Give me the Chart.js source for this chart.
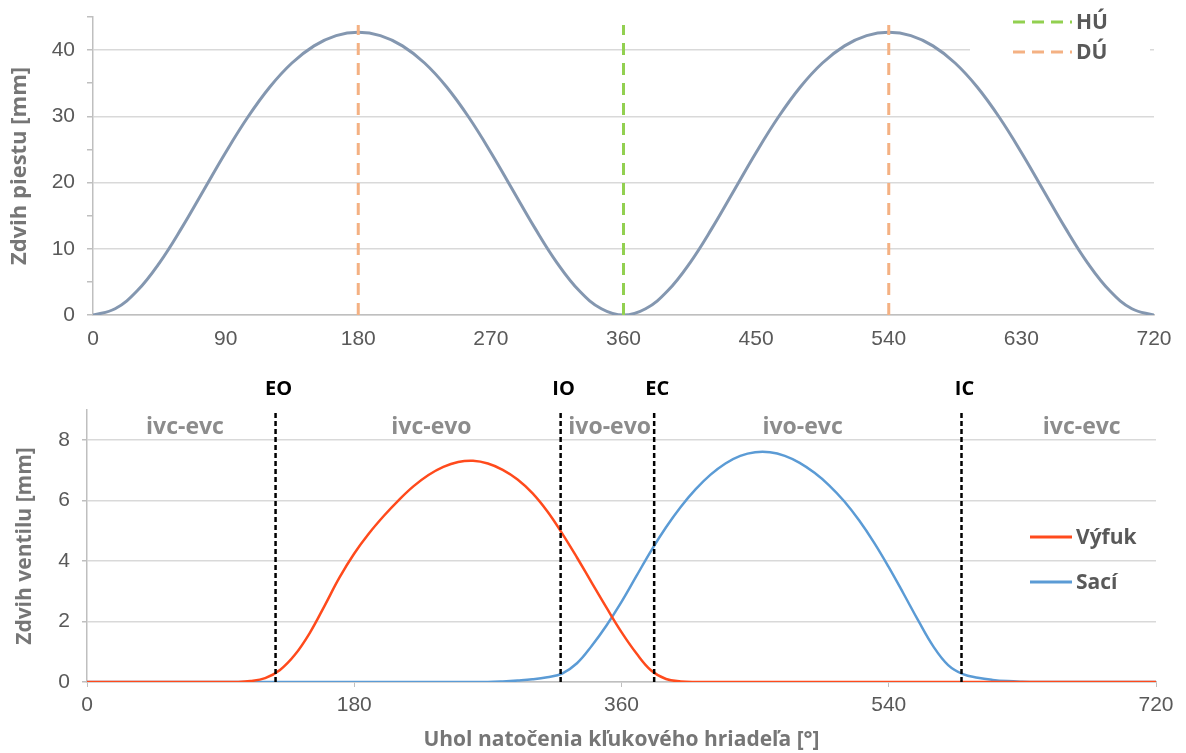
<!DOCTYPE html>
<html>
<head>
<meta charset="utf-8">
<script src="https://cdn.jsdelivr.net/npm/chart.js"></script>
<style>
  html, body { margin: 0; padding: 0; background: #fff; }
  #wrap { position: relative; width: 1186px; height: 753px; }
  .box { position: absolute; left: 0; width: 1186px; }
  #top { top: 0; height: 360px; }
  #bottom { top: 360px; height: 393px; }
</style>
</head>
<body>
<div id="wrap">
  <div class="box" id="top"><canvas id="chart-piest"></canvas></div>
  <div class="box" id="bottom"><canvas id="chart-ventil"></canvas></div>
</div>
<script>
// --- horny graf: zdvih piestu ---
const pistonDeg = [0, 15, 30, 45, 60, 75, 90, 105, 120, 135, 150, 165, 180,
  195, 210, 225, 240, 255, 270, 285, 300, 315, 330, 345, 360,
  375, 390, 405, 420, 435, 450, 465, 480, 495, 510, 525, 540,
  555, 570, 585, 600, 615, 630, 645, 660, 675, 690, 705, 720];
const pistonStroke = [0, 0.94, 3.66, 7.85, 13.08, 18.81, 24.55, 29.86, 34.43, 38.05, 40.64, 42.19, 42.7,
  42.19, 40.64, 38.05, 34.43, 29.86, 24.55, 18.81, 13.08, 7.85, 3.66, 0.94, 0,
  0.94, 3.66, 7.85, 13.08, 18.81, 24.55, 29.86, 34.43, 38.05, 40.64, 42.19, 42.7,
  42.19, 40.64, 38.05, 34.43, 29.86, 24.55, 18.81, 13.08, 7.85, 3.66, 0.94, 0];
const huDeg = [360];
const duDeg = [180, 540];
const deadCenterTop = 43.8;
const topXTicks = [0, 90, 180, 270, 360, 450, 540, 630, 720];
const topYTicks = [0, 5, 10, 15, 20, 25, 30, 35, 40, 45];

// --- dolny graf: zdvih ventilov ---
const valveDeg = [0, 10, 20, 30, 40, 50, 60, 70, 80, 90, 100, 110, 120, 130, 140, 150, 160, 170, 180,
  190, 200, 210, 220, 230, 240, 250, 260, 270, 280, 290, 300, 310, 320, 330, 340, 350, 360,
  370, 380, 390, 400, 410, 420, 430, 440, 450, 460, 470, 480, 490, 500, 510, 520, 530, 540,
  550, 560, 570, 580, 590, 600, 610, 620, 630, 640, 650, 660, 670, 680, 690, 700, 710, 720];
const exhaustLift = [0, 0, 0, 0, 0, 0, 0, 0, 0, 0, 0, 0.03, 0.13, 0.4, 0.9, 1.62, 2.52, 3.45, 4.25,
  4.92, 5.5, 6.02, 6.48, 6.85, 7.12, 7.28, 7.32, 7.23, 7.02, 6.7, 6.25, 5.65, 4.92, 4.12, 3.28, 2.45, 1.65,
  0.95, 0.38, 0.1, 0.02, 0, 0, 0, 0, 0, 0, 0, 0, 0, 0, 0, 0, 0, 0,
  0, 0, 0, 0, 0, 0, 0, 0, 0, 0, 0, 0, 0, 0, 0, 0, 0, 0];
const intakeLift = [0, 0, 0, 0, 0, 0, 0, 0, 0, 0, 0, 0, 0, 0, 0, 0, 0, 0, 0,
  0, 0, 0, 0, 0, 0, 0, 0, 0, 0.02, 0.05, 0.09, 0.16, 0.28, 0.62, 1.2, 1.88, 2.65,
  3.5, 4.35, 5.12, 5.8, 6.38, 6.86, 7.23, 7.48, 7.6, 7.6, 7.48, 7.25, 6.92, 6.5, 5.98, 5.35, 4.62, 3.8,
  2.92, 2.02, 1.18, 0.56, 0.26, 0.14, 0.07, 0.03, 0.01, 0, 0, 0, 0, 0, 0, 0, 0, 0];
const eventNames = ['EO', 'IO', 'EC', 'IC'];
const eventDeg = [127, 319, 382, 589];
const phaseNames = ['ivc-evc', 'ivc-evo', 'ivo-evo', 'ivo-evc', 'ivc-evc'];
const phaseDeg = [66, 232, 352, 482, 670];
const phaseY = 8.43;
const bottomXTicks = [0, 180, 360, 540, 720];
const bottomYTicks = [0, 2, 4, 6, 8];

const TICK_FONT = { family: 'Liberation Sans', size: 21 };
const BOLD = 'Open Sans';
const GRID = '#d9d9d9';
const AXIS = '#bfbfbf';

const pts = (xs, ys) => xs.map((x, i) => ({ x: x, y: ys[i] }));
const vline = (x, top) => [{ x: x, y: 0 }, { x: x, y: top }];
// bez extra odsadenia od popisov osi y
const noPad = s => { s.paddingTop = 0; s.paddingBottom = 0; };

// legenda s prerusovanou ciarou vpravo hore
const topLegend = {
  id: 'topLegend',
  afterDatasetsDraw(chart) {
    const ctx = chart.ctx;
    ctx.save();
    ctx.fillStyle = '#fff';
    ctx.fillRect(970, 4, 180, 64);
    const items = [['HÚ', '#92d050', 22], ['DÚ', '#f4b183', 52]];
    items.forEach(([txt, col, y]) => {
      ctx.strokeStyle = col;
      ctx.lineWidth = 3;
      ctx.setLineDash([12, 7]);
      ctx.beginPath();
      ctx.moveTo(1013, y);
      ctx.lineTo(1072, y);
      ctx.stroke();
      ctx.setLineDash([]);
      ctx.fillStyle = '#595959';
      ctx.font = 'bold 21px "' + BOLD + '"';
      ctx.textAlign = 'left';
      ctx.textBaseline = 'middle';
      ctx.fillText(txt, 1076, y + 1);
    });
    ctx.restore();
  }
};

const valveLabels = {
  id: 'valveLabels',
  afterDatasetsDraw(chart) {
    const ctx = chart.ctx;
    const xs = chart.scales.x, ys = chart.scales.y;
    ctx.save();
    ctx.textAlign = 'center';
    ctx.textBaseline = 'middle';
    ctx.font = 'bold 20px "' + BOLD + '"';
    ctx.fillStyle = '#000';
    eventNames.forEach((n, i) => {
      ctx.fillText(n, xs.getPixelForValue(eventDeg[i]) + 3, chart.chartArea.top - 21);
    });
    ctx.font = 'bold 23px "' + BOLD + '"';
    ctx.fillStyle = '#8c8c8c';
    phaseNames.forEach((n, i) => {
      ctx.fillText(n, xs.getPixelForValue(phaseDeg[i]), ys.getPixelForValue(phaseY));
    });
    // legenda
    ctx.font = 'bold 21px "' + BOLD + '"';
    const items = [['Výfuk', '#ff4a1c', 177], ['Sací', '#5b9bd5', 222]];
    items.forEach(([txt, col, y]) => {
      ctx.strokeStyle = col;
      ctx.lineWidth = 3;
      ctx.beginPath();
      ctx.moveTo(1030, y);
      ctx.lineTo(1072, y);
      ctx.stroke();
      ctx.fillStyle = '#595959';
      ctx.textAlign = 'left';
      ctx.fillText(txt, 1076, y + 1);
    });
    ctx.restore();
  }
};

new Chart(document.getElementById('chart-piest'), {
  type: 'line',
  data: {
    datasets: [
      ...huDeg.map(d => ({ data: vline(d, deadCenterTop), borderColor: '#92d050', borderWidth: 3, borderDash: [12, 8], pointRadius: 0, order: 0 })),
      ...duDeg.map(d => ({ data: vline(d, deadCenterTop), borderColor: '#f4b183', borderWidth: 3, borderDash: [12, 8], pointRadius: 0, order: 0 })),
      { data: pts(pistonDeg, pistonStroke), borderColor: '#8497b0', borderWidth: 3, pointRadius: 0, tension: 0.4, order: 1 }
    ]
  },
  options: {
    responsive: true,
    maintainAspectRatio: false,
    animation: false,
    layout: { padding: { left: 0, right: 32, top: 17, bottom: 0 } },
    plugins: { legend: { display: false }, tooltip: { enabled: false } },
    scales: {
      x: {
        type: 'linear', min: 0, max: 720,
        afterBuildTicks: s => { s.ticks = topXTicks.map(v => ({ value: v })); },
        afterFit: s => { s.height = 45; },
        ticks: { font: TICK_FONT, color: '#595959', padding: 12, maxRotation: 0, autoSkip: false },
        grid: { color: 'transparent', drawTicks: false },
        border: { color: AXIS, width: 1.5 }
      },
      y: {
        min: 0, max: 45,
        afterBuildTicks: s => { s.ticks = topYTicks.map(v => ({ value: v })); },
        afterFit: s => { s.width = 93; noPad(s); },
        ticks: { font: TICK_FONT, color: '#595959', padding: 12, callback: v => (v % 10 === 0 && v <= 40) ? v : '' },
        grid: {
          color: c => (c.tick && c.tick.value % 10 === 0 && c.tick.value <= 40) ? GRID : 'transparent',
          lineWidth: 1.5, tickColor: AXIS, tickLength: 6
        },
        border: { color: AXIS, width: 1.5 },
        title: { display: true, text: 'Zdvih piestu [mm]', color: '#767676', font: { family: BOLD, size: 22, weight: 'bold' }, padding: { top: 7, bottom: 0 } }
      }
    }
  },
  plugins: [topLegend]
});

new Chart(document.getElementById('chart-ventil'), {
  type: 'line',
  data: {
    datasets: [
      ...eventDeg.map(d => ({ data: vline(d, 9), borderColor: '#000', borderWidth: 2.5, borderDash: [5, 3], pointRadius: 0, order: 0 })),
      { label: 'Výfuk', data: pts(valveDeg, exhaustLift), borderColor: '#ff4a1c', borderWidth: 2.5, pointRadius: 0, tension: 0.4, order: 1 },
      { label: 'Sací', data: pts(valveDeg, intakeLift), borderColor: '#5b9bd5', borderWidth: 2.5, pointRadius: 0, tension: 0.4, order: 2 }
    ]
  },
  options: {
    responsive: true,
    maintainAspectRatio: false,
    animation: false,
    layout: { padding: { left: 0, right: 30, top: 50, bottom: 0 } },
    plugins: { legend: { display: false }, tooltip: { enabled: false } },
    scales: {
      x: {
        type: 'linear', min: 0, max: 720,
        afterBuildTicks: s => { s.ticks = bottomXTicks.map(v => ({ value: v })); },
        afterFit: s => { s.height = 71; },
        ticks: { font: TICK_FONT, color: '#595959', padding: 6, maxRotation: 0, autoSkip: false },
        grid: { color: 'transparent', tickColor: AXIS, tickLength: 5 },
        border: { color: AXIS, width: 1.5 },
        title: { display: true, text: 'Uhol natočenia kľukového hriadeľa [°]', color: '#767676', font: { family: BOLD, size: 21, weight: 'bold' }, padding: { top: 0, bottom: 0 } }
      },
      y: {
        min: 0, max: 9,
        afterBuildTicks: s => { s.ticks = bottomYTicks.map(v => ({ value: v })); },
        afterFit: s => { s.width = 87; noPad(s); },
        ticks: { font: TICK_FONT, color: '#595959', padding: 12 },
        grid: { color: GRID, lineWidth: 1.5, tickColor: AXIS, tickLength: 5 },
        border: { color: AXIS, width: 1.5 },
        title: { display: true, text: 'Zdvih ventilu [mm]', color: '#767676', font: { family: BOLD, size: 21, weight: 'bold' }, padding: { top: 12, bottom: 0 } }
      }
    }
  },
  plugins: [valveLabels]
});
</script>
</body>
</html>
